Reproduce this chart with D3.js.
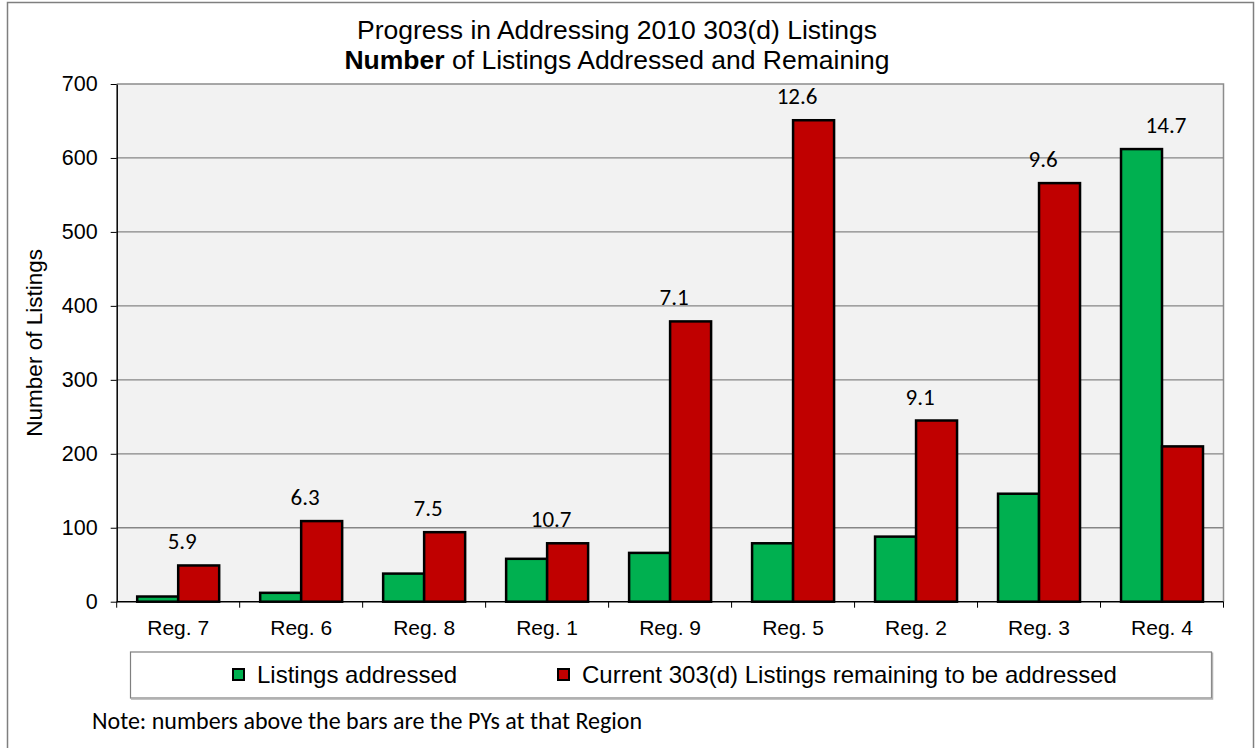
<!DOCTYPE html>
<html>
<head>
<meta charset="utf-8">
<script src="https://cdn.jsdelivr.net/npm/d3@7"></script>
<style>
  html, body { margin: 0; padding: 0; background: #fff; }
  svg { display: block; }
</style>
</head>
<body>
<script>
// Data
const regions = ["Reg. 7", "Reg. 6", "Reg. 8", "Reg. 1", "Reg. 9", "Reg. 5", "Reg. 2", "Reg. 3", "Reg. 4"]
const addressed = [7, 12, 38, 58, 66, 79, 88, 146, 612]
const remaining = [49, 109, 94, 79, 379, 651, 245, 566, 210]
const pys = [5.9, 6.3, 7.5, 10.7, 7.1, 12.6, 9.1, 9.6, 14.7]
const yTicks = [0, 100, 200, 300, 400, 500, 600, 700]
const seriesNames = ["Listings addressed", "Current 303(d) Listings remaining to be addressed"]
const seriesColors = ["#00b050", "#c00000"]

const width = 1258, height = 748
const plot = { left: 116.7, right: 1223.5, top: 84, bottom: 601.7 }
const arial = "'Liberation Sans', Arial, sans-serif"
const calibri = "Carlito, Lato, 'Open Sans', sans-serif"

// Create SVG
const svg = d3.select("body").append("svg")
  .attr("width", width)
  .attr("height", height)

// Outer chart border
svg.append("rect")
  .attr("x", 7.5).attr("y", 2.5)
  .attr("width", 1246).attr("height", 760)
  .attr("fill", "#fff")
  .attr("stroke", "#7f7f7f")
  .attr("stroke-width", 1.5)

// Scales
const x = d3.scaleBand().domain(regions).range([plot.left, plot.right]).padding(0)
const inner = d3.scaleBand().domain([0, 1]).range([0, x.bandwidth()]).paddingInner(0).paddingOuter(0.5)
const y = d3.scaleLinear().domain([0, 700]).range([plot.bottom, plot.top])

// Plot area background and frame
svg.append("rect")
  .attr("x", plot.left).attr("y", plot.top)
  .attr("width", plot.right - plot.left).attr("height", plot.bottom - plot.top)
  .attr("fill", "#f2f2f2")
svg.append("path")
  .attr("d", `M${plot.left},${plot.top}H${plot.right}V${plot.bottom}`)
  .attr("fill", "none")
  .attr("stroke", "#8c8c8c")
  .attr("stroke-width", 1.5)

// Gridlines
svg.append("g")
  .selectAll("line")
  .data(yTicks.filter(d => d > 0 && d < 700))
  .join("line")
  .attr("x1", plot.left).attr("x2", plot.right)
  .attr("y1", d => y(d)).attr("y2", d => y(d))
  .attr("stroke", "#868686")
  .attr("stroke-width", 1.3)

// Y axis
const yAxis = svg.append("g")
  .attr("transform", `translate(${plot.left},0)`)
  .call(d3.axisLeft(y).tickValues(yTicks).tickSize(6).tickPadding(13).tickSizeOuter(0))
yAxis.select(".domain").attr("stroke", "#000").attr("stroke-width", 1.5)
yAxis.selectAll(".tick line").attr("stroke", "#000")
yAxis.selectAll("text")
  .attr("font-family", arial)
  .attr("font-size", "21.5px")
  .attr("fill", "#000")

// X axis with ticks at category boundaries
const xAxis = svg.append("g")
  .attr("transform", `translate(0,${plot.bottom})`)
xAxis.append("line")
  .attr("x1", plot.left).attr("x2", plot.right)
  .attr("stroke", "#000").attr("stroke-width", 1.5)
xAxis.selectAll(".tick")
  .data(regions.concat([null]))
  .join("line")
  .attr("class", "tick")
  .attr("x1", (d, i) => i < regions.length ? x(d) : plot.right)
  .attr("x2", (d, i) => i < regions.length ? x(d) : plot.right)
  .attr("y1", 0).attr("y2", 6)
  .attr("stroke", "#000")
xAxis.selectAll("text")
  .data(regions)
  .join("text")
  .attr("x", d => x(d) + x.bandwidth() / 2)
  .attr("y", 33)
  .attr("text-anchor", "middle")
  .attr("font-family", arial)
  .attr("font-size", "21px")
  .text(d => d)

// Bars
const groups = svg.append("g")
  .selectAll("g")
  .data(regions)
  .join("g")
  .attr("transform", d => `translate(${x(d)},0)`)
groups.selectAll("rect")
  .data((d, i) => [addressed[i], remaining[i]])
  .join("rect")
  .attr("x", (d, j) => inner(j))
  .attr("y", d => y(d))
  .attr("width", inner.bandwidth())
  .attr("height", d => y(0) - y(d))
  .attr("fill", (d, j) => seriesColors[j])
  .attr("stroke", "#000")
  .attr("stroke-width", 2.5)

// PY labels above each region
svg.append("g")
  .selectAll("text")
  .data(regions)
  .join("text")
  .attr("x", d => x(d) + x.bandwidth() / 2 + 4)
  .attr("y", (d, i) => y(Math.max(addressed[i], remaining[i])) - 16)
  .attr("text-anchor", "middle")
  .attr("font-family", calibri)
  .attr("font-size", "23px")
  .attr("fill", "#000")
  .text((d, i) => pys[i])

// Title
const title = svg.append("text")
  .attr("text-anchor", "middle")
  .attr("font-family", arial)
  .attr("font-size", "26.5px")
  .attr("fill", "#000")
title.append("tspan").attr("x", 617).attr("y", 39).text("Progress in Addressing 2010 303(d) Listings")
const line2 = title.append("tspan").attr("x", 617).attr("y", 69)
line2.append("tspan").attr("font-weight", "bold").text("Number")
line2.append("tspan").text(" of Listings Addressed and Remaining")

// Y axis title
svg.append("text")
  .attr("transform", `translate(42,${(plot.top + plot.bottom) / 2}) rotate(-90)`)
  .attr("text-anchor", "middle")
  .attr("font-family", arial)
  .attr("font-size", "22.5px")
  .text("Number of Listings")

// Legend
const legend = svg.append("g")
legend.append("rect")
  .attr("x", 130.5).attr("y", 652)
  .attr("width", 1081).attr("height", 46)
  .attr("fill", "#fff")
  .attr("stroke", "#7f7f7f")
  .attr("stroke-width", 1.2)
legend.append("path")
  .attr("d", "M131,699H1212.5V652.5")
  .attr("fill", "none")
  .attr("stroke", "#b0b0b0")
  .attr("stroke-width", 1.5)
const legendX = [233, 558]
const items = legend.selectAll("g.item")
  .data(seriesNames)
  .join("g")
  .attr("class", "item")
  .attr("transform", (d, i) => `translate(${legendX[i]},669)`)
items.append("rect")
  .attr("width", 11).attr("height", 11)
  .attr("fill", (d, i) => seriesColors[i])
  .attr("stroke", "#000")
  .attr("stroke-width", 2)
items.append("text")
  .attr("x", 24)
  .attr("y", 14)
  .attr("font-family", arial)
  .attr("font-size", "24px")
  .text(d => d)

// Footnote
svg.append("text")
  .attr("x", 92)
  .attr("y", 729)
  .attr("font-family", calibri)
  .attr("font-size", "24px")
  .text("Note: numbers above the bars are the PYs at that Region")
</script>
</body>
</html>
